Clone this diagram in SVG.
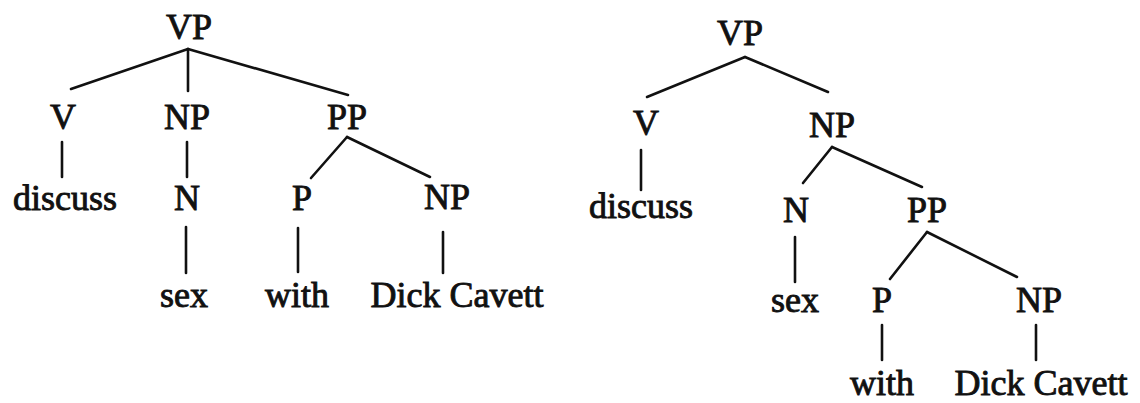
<svg xmlns="http://www.w3.org/2000/svg" width="1140" height="403" viewBox="0 0 1140 403">
<style>
text{font-family:"Liberation Serif","Times New Roman",serif;font-size:36px;fill:#111;stroke:#111;stroke-width:0.9;text-anchor:middle}
.e line{stroke:#111;stroke-width:2.6;stroke-linecap:round}
</style>
<rect width="1140" height="403" fill="#fff"/>
<g id="tree1">
<g id="t1-vp"><text x="189" y="39">VP</text></g>
<g id="t1-v"><text x="63" y="129">V</text></g>
<g id="t1-np"><text x="187" y="129">NP</text></g>
<g id="t1-pp"><text x="347" y="129">PP</text></g>
<g id="t1-discuss"><text x="65" y="210">discuss</text></g>
<g id="t1-n"><text x="187" y="210">N</text></g>
<g id="t1-p"><text x="302" y="210">P</text></g>
<g id="t1-np2"><text x="447" y="209">NP</text></g>
<g id="t1-sex"><text x="184" y="307">sex</text></g>
<g id="t1-with"><text x="297" y="307">with</text></g>
<g id="t1-dc"><text x="457" y="307">Dick Cavett</text></g>
</g>
<g id="tree2">
<g id="t2-vp"><text x="740" y="45">VP</text></g>
<g id="t2-v"><text x="646" y="135">V</text></g>
<g id="t2-np"><text x="832" y="137">NP</text></g>
<g id="t2-discuss"><text x="641" y="218">discuss</text></g>
<g id="t2-n"><text x="796" y="222">N</text></g>
<g id="t2-pp"><text x="927" y="222">PP</text></g>
<g id="t2-sex"><text x="795" y="312">sex</text></g>
<g id="t2-p"><text x="882" y="312">P</text></g>
<g id="t2-np2"><text x="1039" y="312">NP</text></g>
<g id="t2-with"><text x="882" y="395">with</text></g>
<g id="t2-dc"><text x="1041" y="395">Dick Cavett</text></g>
</g>
<g id="connectors" class="e">
<line x1="188" y1="49" x2="71" y2="89"/>
<line x1="188" y1="49" x2="188" y2="91"/>
<line x1="188" y1="49" x2="348" y2="95"/>
<line x1="62" y1="142" x2="62" y2="177"/>
<line x1="187" y1="142" x2="187" y2="177"/>
<line x1="347" y1="137" x2="311" y2="178"/>
<line x1="347" y1="137" x2="430" y2="177"/>
<line x1="186" y1="227" x2="186" y2="273"/>
<line x1="298" y1="228" x2="298" y2="272"/>
<line x1="443" y1="232" x2="443" y2="273"/>
<line x1="745" y1="57" x2="647" y2="97"/>
<line x1="745" y1="57" x2="828" y2="92"/>
<line x1="641" y1="150" x2="641" y2="190"/>
<line x1="832" y1="147" x2="803" y2="183"/>
<line x1="832" y1="147" x2="922" y2="187"/>
<line x1="795" y1="237" x2="795" y2="282"/>
<line x1="927" y1="232" x2="890" y2="279"/>
<line x1="927" y1="232" x2="1017" y2="277"/>
<line x1="882" y1="325" x2="882" y2="360"/>
<line x1="1036" y1="325" x2="1036" y2="360"/>
</g>
</svg>
